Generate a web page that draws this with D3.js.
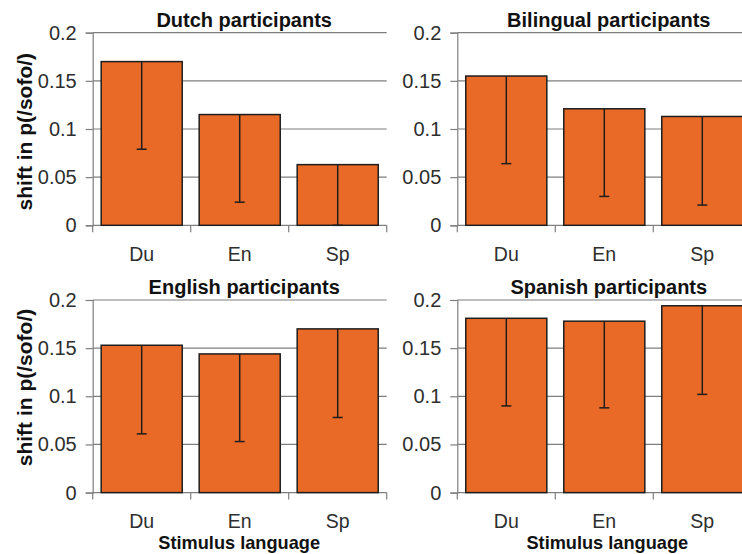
<!DOCTYPE html>
<html>
<head>
<meta charset="utf-8">
<script src="https://cdn.jsdelivr.net/npm/d3@7"></script>
<style>
  html, body { margin: 0; padding: 0; background: #fff; }
  svg { display: block; }
  text { font-family: "Liberation Sans", Arial, sans-serif; }
</style>
</head>
<body>
<svg id="chart" width="742" height="554"></svg>
<script>
// Stimulus languages on the x axis of every panel
const categories = ["Du", "En", "Sp"];
const yTicks = [0, 0.05, 0.1, 0.15, 0.2];

// Mean shift in p(/sofo/) per stimulus language, one array per listener group
const dutchMeans     = [0.170, 0.115, 0.063];
const dutchLower     = [0.079, 0.024, 0.000];
const bilingualMeans = [0.155, 0.121, 0.113];
const bilingualLower = [0.064, 0.030, 0.021];
const englishMeans   = [0.153, 0.144, 0.170];
const englishLower   = [0.061, 0.053, 0.078];
const spanishMeans   = [0.181, 0.178, 0.194];
const spanishLower   = [0.090, 0.088, 0.102];

const panelTitles = ["Dutch participants", "Bilingual participants",
                     "English participants", "Spanish participants"];

const panels = [
  { title: panelTitles[0], means: dutchMeans,     lower: dutchLower,     x0: 92.7,  y0: 32.7, yLabel: true,  xLabel: false },
  { title: panelTitles[1], means: bilingualMeans, lower: bilingualLower, x0: 457.3, y0: 32.7, yLabel: false, xLabel: false },
  { title: panelTitles[2], means: englishMeans,   lower: englishLower,   x0: 92.7,  y0: 300,  yLabel: true,  xLabel: true },
  { title: panelTitles[3], means: spanishMeans,   lower: spanishLower,   x0: 457.3, y0: 300,  yLabel: false, xLabel: true }
];

const plotW = 294, plotH = 192.6;
const barFill = "#e96a27", ink = "#1e1e1e", gridColor = "#7f7f7f";

const svg = d3.select("#chart");

panels.forEach(p => {
  const x = d3.scaleBand().domain(categories)
    .range([p.x0, p.x0 + plotW]).paddingInner(0.173).paddingOuter(0.0865);
  const y = d3.scaleLinear().domain([0, 0.2]).range([p.y0 + plotH, p.y0]);
  const g = svg.append("g");

  // horizontal gridlines
  g.selectAll("line.grid").data(yTicks.slice(1)).join("line")
    .attr("class", "grid")
    .attr("x1", p.x0).attr("x2", p.x0 + plotW)
    .attr("y1", d => y(d)).attr("y2", d => y(d))
    .attr("stroke", gridColor).attr("stroke-width", 1.2);

  // y axis
  const yAxis = d3.axisLeft(y).tickValues(yTicks).tickSize(7).tickPadding(9)
    .tickFormat(d => String(d));
  const ya = g.append("g").attr("transform", `translate(${p.x0},0)`).call(yAxis);
  ya.select(".domain").attr("stroke", gridColor).attr("stroke-width", 1.2);
  ya.selectAll(".tick line").attr("stroke", gridColor).attr("stroke-width", 1.2);
  ya.selectAll(".tick text").attr("font-size", 20).attr("fill", "#2e2e2e")
    .attr("font-family", "Liberation Sans, Arial, sans-serif");

  // x axis baseline and boundary ticks between categories
  const step = x.step();
  const bounds = d3.range(categories.length + 1).map(i => p.x0 + i * step);
  g.append("line")
    .attr("x1", p.x0).attr("x2", p.x0 + plotW)
    .attr("y1", y(0)).attr("y2", y(0))
    .attr("stroke", gridColor).attr("stroke-width", 1.2);
  g.selectAll("line.xtick").data(bounds).join("line")
    .attr("class", "xtick")
    .attr("x1", d => d).attr("x2", d => d)
    .attr("y1", y(0)).attr("y2", y(0) + 7)
    .attr("stroke", gridColor).attr("stroke-width", 1.2);

  // bars
  g.selectAll("rect.bar").data(categories).join("rect")
    .attr("class", "bar")
    .attr("x", d => x(d)).attr("width", x.bandwidth())
    .attr("y", (d, i) => y(p.means[i]))
    .attr("height", (d, i) => y(0) - y(p.means[i]))
    .attr("fill", barFill).attr("stroke", ink).attr("stroke-width", 1.5);

  // downward error bars
  const cx = d => x(d) + x.bandwidth() / 2;
  g.selectAll("line.err").data(categories).join("line")
    .attr("class", "err")
    .attr("x1", cx).attr("x2", cx)
    .attr("y1", (d, i) => y(p.means[i])).attr("y2", (d, i) => y(p.lower[i]))
    .attr("stroke", ink).attr("stroke-width", 1.5);
  g.selectAll("line.cap").data(categories).join("line")
    .attr("class", "cap")
    .attr("x1", d => cx(d) - 5).attr("x2", d => cx(d) + 5)
    .attr("y1", (d, i) => y(p.lower[i])).attr("y2", (d, i) => y(p.lower[i]))
    .attr("stroke", ink).attr("stroke-width", 1.5);

  // category labels
  g.selectAll("text.cat").data(categories).join("text")
    .attr("class", "cat")
    .attr("x", cx).attr("y", y(0) + 35.5)
    .attr("text-anchor", "middle").attr("font-size", 19.5).attr("fill", "#2e2e2e")
    .text(d => d);

  // panel title
  g.append("text")
    .attr("x", p.x0 + plotW / 2 + 4.5).attr("y", p.y0 - 6)
    .attr("text-anchor", "middle").attr("font-size", 20).attr("font-weight", "bold")
    .attr("fill", "#111")
    .text(p.title);

  if (p.yLabel) {
    const cy = p.y0 === 32.7 ? 131.7 : 387.5;
    g.append("text")
      .attr("transform", `translate(32,${cy}) rotate(-90)`)
      .attr("text-anchor", "middle").attr("font-size", 21).attr("font-weight", "bold")
      .attr("fill", "#111")
      .text("shift in p(/sofo/)");
  }
  if (p.xLabel) {
    g.append("text")
      .attr("x", p.x0 + plotW / 2 - 0.5 + (p.x0 > 300 ? 3.5 : 0)).attr("y", 549)
      .attr("text-anchor", "middle").attr("font-size", 18.2).attr("font-weight", "bold")
      .attr("fill", "#111")
      .text("Stimulus language");
  }
});
</script>
</body>
</html>
